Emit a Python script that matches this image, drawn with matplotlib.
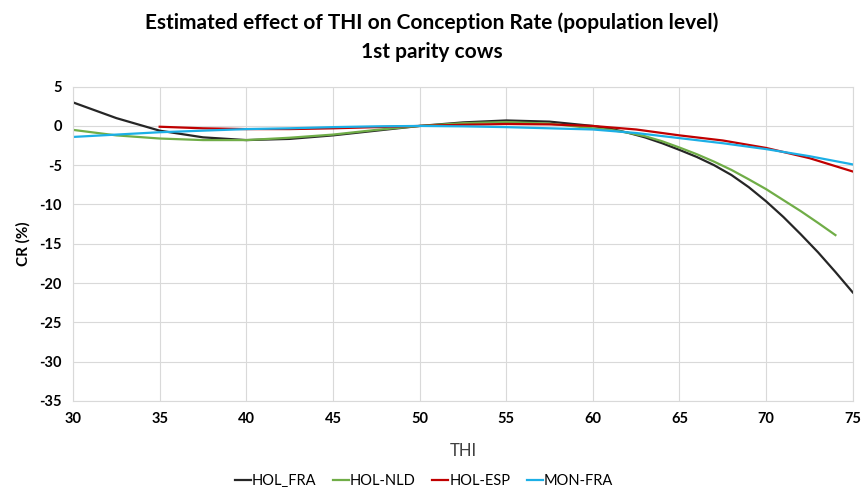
import matplotlib
matplotlib.use("Agg")
import matplotlib.pyplot as plt

plt.rcParams['font.family'] = ['Lato', 'DejaVu Sans']
plt.rcParams['axes.unicode_minus'] = False

# curves (CR in %, by THI)
thi_fra = [30, 32.5, 35, 37.5, 40, 42.5, 45, 47.5, 50, 52.5, 55, 57.5, 60,
           61, 62, 63, 64, 65, 66, 67, 68, 69, 70, 71, 72, 73, 74, 75]
hol_fra = [3.0, 1.0, -0.6, -1.45, -1.8, -1.65, -1.2, -0.6, 0.0, 0.45, 0.7,
           0.55, 0.0, -0.35, -0.85, -1.45, -2.2, -3.05, -3.95, -5.0, -6.25,
           -7.8, -9.6, -11.6, -13.8, -16.1, -18.6, -21.2]

thi_nld = [30, 32.5, 35, 37.5, 40, 42.5, 45, 47.5, 50, 52.5, 55, 57.5, 60,
           61, 62, 63, 64, 65, 66, 67, 68, 69, 70, 71, 72, 73, 74]
hol_nld = [-0.5, -1.2, -1.6, -1.8, -1.8, -1.5, -1.1, -0.5, 0.0, 0.35, 0.5,
           0.3, -0.3, -0.5, -0.85, -1.3, -1.95, -2.75, -3.6, -4.55, -5.6,
           -6.8, -8.05, -9.45, -10.85, -12.35, -13.9]

thi_esp = [35, 37.5, 40, 42.5, 45, 47.5, 50, 52.5, 55, 57.5, 60,
           62.5, 65, 67.5, 70, 72.5, 75]
hol_esp = [-0.1, -0.3, -0.4, -0.4, -0.3, -0.15, 0.0, 0.15, 0.25, 0.2, 0.0,
           -0.45, -1.2, -1.85, -2.8, -4.1, -5.8]

thi_mon = [30, 32.5, 35, 37.5, 40, 42.5, 45, 47.5, 50, 52.5, 55, 57.5, 60,
           62.5, 65, 67.5, 70, 72.5, 75]
mon_fra = [-1.4, -1.1, -0.8, -0.6, -0.4, -0.3, -0.15, -0.05, 0.0, -0.05,
           -0.15, -0.3, -0.45, -0.9, -1.55, -2.2, -2.95, -3.85, -4.9]

fig = plt.figure(figsize=(8.64, 4.87), dpi=100)
ax = fig.add_axes([0.0845, 0.177, 0.9025, 0.645])

ax.plot(thi_fra, hol_fra, color='#262626', lw=1.6, label='HOL_FRA')
ax.plot(thi_nld, hol_nld, color='#70AD47', lw=1.6, label='HOL-NLD')
ax.plot(thi_esp, hol_esp, color='#C00000', lw=1.6, label='HOL-ESP')
ax.plot(thi_mon, mon_fra, color='#1CAFE6', lw=1.6, label='MON-FRA')

ax.set_xlim(30, 75)
ax.set_ylim(-35, 5)
ax.set_xticks(range(30, 76, 5))
ax.set_yticks(range(-35, 6, 5))
ax.grid(True, color='#d9d9d9', lw=0.8)
ax.set_axisbelow(True)
for s in ax.spines.values():
    s.set_color('#d9d9d9')
    s.set_linewidth(0.8)
ax.tick_params(length=0, labelsize=10.5, pad=8)
for lab in ax.get_xticklabels() + ax.get_yticklabels():
    lab.set_fontweight('bold')

ax.set_xlabel('THI', fontsize=12, color='#404040', labelpad=12)
ax.set_ylabel('CR (%)', fontsize=11, fontweight='bold', labelpad=6)

fig.suptitle('Estimated effect of THI on Conception Rate (population level)\n1st parity cows',
             fontsize=15, fontweight='bold', y=0.975, linespacing=1.55)

ax.legend(loc='upper center', bbox_to_anchor=(0.45, -0.205), ncol=4, frameon=False,
          fontsize=10.5, handlelength=1.1, handletextpad=0.1, columnspacing=1.1,
          borderpad=0.1)

fig.savefig('out.png', dpi=100)
